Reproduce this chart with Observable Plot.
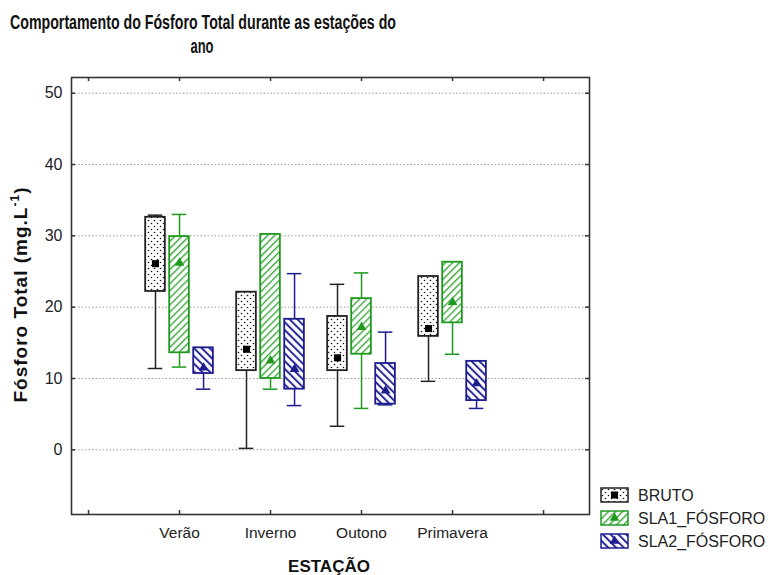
<!DOCTYPE html>
<html>
<head>
<meta charset="utf-8">
<script src="https://cdn.jsdelivr.net/npm/d3@7"></script>
<script src="https://cdn.jsdelivr.net/npm/@observablehq/plot@0.6"></script>
<style>
  body { margin: 0; background: #fff; }
  #chart { position: relative; width: 771px; height: 575px; font-family: Arial, "Liberation Sans", sans-serif; }
  #chart > svg { position: absolute; left: 0; top: 0; }
</style>
</head>
<body>
<div id="chart"></div>
<script>
// Seasons on the x axis (positions 1..4; 0 and 5 are empty slots)
const seasons = ["Verão", "Inverno", "Outono", "Primavera"];
const seriesNames = ["BRUTO", "SLA1_FÓSFORO", "SLA2_FÓSFORO"];

// Total phosphorus (mg/L) — whisker low, box low, marker, box high, whisker high
const brutoMin   = [11.4, 0.2, 3.3, 9.6];
const brutoLow   = [22.2, 11.1, 11.1, 15.9];
const brutoMid   = [26.1, 14.1, 12.9, 17.0];
const brutoHigh  = [32.6, 22.1, 18.7, 24.3];
const brutoMax   = [32.9, 22.1, 23.2, 24.3];

const sla1Min    = [11.6, 8.5, 5.8, 13.4];
const sla1Low    = [13.6, 10.0, 13.4, 17.8];
const sla1Mid    = [26.2, 12.5, 17.2, 20.7];
const sla1High   = [29.9, 30.2, 21.2, 26.3];
const sla1Max    = [33.0, 30.2, 24.8, 26.3];

const sla2Min    = [8.5, 6.2, 6.3, 5.8];
const sla2Low    = [10.7, 8.5, 6.4, 6.9];
const sla2Mid    = [11.5, 11.3, 8.3, 9.3];
const sla2High   = [14.3, 18.3, 12.1, 12.4];
const sla2Max    = [14.3, 24.7, 16.5, 12.4];

const yTicks = [0, 10, 20, 30, 40, 50];
const xTicks = [0, 1, 2, 3, 4, 5];

// Visual style of each series
const styles = [
  {name: seriesNames[0], color: "#222222", pattern: "pat-dots",  symbol: "square",   dx: -0.264, stats: [brutoMin, brutoLow, brutoMid, brutoHigh, brutoMax]},
  {name: seriesNames[1], color: "#1f9a1f", pattern: "pat-green", symbol: "triangle", dx: 0,      stats: [sla1Min, sla1Low, sla1Mid, sla1High, sla1Max]},
  {name: seriesNames[2], color: "#1c1c8f", pattern: "pat-blue",  symbol: "triangle", dx: 0.264,  stats: [sla2Min, sla2Low, sla2Mid, sla2High, sla2Max]}
];

const halfBox = 0.108, halfCap = 0.08;

const seriesMarks = styles.flatMap(s => {
  const rows = seasons.map((season, i) => ({
    season, series: s.name, pos: i + 1 + s.dx,
    min: s.stats[0][i], lo: s.stats[1][i], mid: s.stats[2][i], hi: s.stats[3][i], max: s.stats[4][i]
  }));
  return [
    Plot.ruleX(rows, {x: "pos", y1: "min", y2: "lo", stroke: s.color, strokeWidth: 1.5}),
    Plot.ruleX(rows, {x: "pos", y1: "hi", y2: "max", stroke: s.color, strokeWidth: 1.5}),
    Plot.ruleY(rows, {y: "min", x1: d => d.pos - halfCap, x2: d => d.pos + halfCap, stroke: s.color, strokeWidth: 1.5}),
    Plot.ruleY(rows, {y: "max", x1: d => d.pos - halfCap, x2: d => d.pos + halfCap, stroke: s.color, strokeWidth: 1.5}),
    Plot.rect(rows, {x1: d => d.pos - halfBox, x2: d => d.pos + halfBox, y1: "lo", y2: "hi",
      fill: `url(#${s.pattern})`, stroke: s.color, strokeWidth: 1.8}),
    Plot.dot(rows, {x: "pos", y: "mid", symbol: s.symbol, r: s.symbol === "square" ? 4 : 3.6,
      fill: s.symbol === "square" ? "#000" : s.color, stroke: "none"})
  ];
});

const plot = Plot.plot({
  width: 771,
  height: 575,
  marginLeft: 71,
  marginRight: 182,
  marginTop: 77,
  marginBottom: 61,
  style: {fontFamily: "Arial, 'Liberation Sans', sans-serif", color: "#222", background: "transparent"},
  x: {type: "linear", domain: [-0.187, 5.505]},
  y: {domain: [-9.07, 52.2]},
  marks: [
    Plot.gridY(yTicks, {stroke: "#9a9a9a", strokeOpacity: 1, strokeDasharray: "1.5,2"}),
    ...seriesMarks,
    // inward ticks on all four sides
    Plot.ruleY(yTicks, {y: d => d, insetRight: 514, stroke: "#333", strokeWidth: 1.5}),
    Plot.ruleY(yTicks, {y: d => d, insetLeft: 514, stroke: "#333", strokeWidth: 1.5}),
    Plot.ruleX(xTicks, {x: d => d, insetBottom: 433, stroke: "#333", strokeWidth: 1.5}),
    Plot.ruleX(xTicks, {x: d => d, insetTop: 433, stroke: "#333", strokeWidth: 1.5}),
    Plot.frame({stroke: "#333", strokeWidth: 1.6}),
    Plot.axisY(yTicks, {tickSize: 0, tickPadding: 9, fontSize: 16, label: null}),
    Plot.axisX(xTicks, {tickSize: 0, tickPadding: 12, fontSize: 15.5, label: null,
      tickFormat: i => seasons[i - 1] ?? ""})
  ]
});

// Fill patterns for the boxes
const patternDefs = `
  <pattern id="pat-dots" patternUnits="userSpaceOnUse" width="6" height="6">
    <rect width="6" height="6" fill="#fff"/>
    <circle cx="1.5" cy="1.5" r="0.8" fill="#111"/>
    <circle cx="4.5" cy="4.5" r="0.8" fill="#111"/>
  </pattern>
  <pattern id="pat-green" patternUnits="userSpaceOnUse" width="5" height="5" patternTransform="rotate(45)">
    <rect width="5" height="5" fill="#fff"/>
    <rect width="1.4" height="5" fill="#3aa83a"/>
  </pattern>
  <pattern id="pat-blue" patternUnits="userSpaceOnUse" width="5.5" height="5.5" patternTransform="rotate(-45)">
    <rect width="5.5" height="5.5" fill="#fff"/>
    <rect width="2" height="5.5" fill="#2a2a9a"/>
  </pattern>`;
d3.select(plot).insert("defs", ":first-child").html(patternDefs);

const chart = document.getElementById("chart");
chart.appendChild(plot);

// Titles, axis labels and legend drawn on top of the plot
const overlay = d3.create("svg")
  .attr("width", 771).attr("height", 575)
  .style("pointer-events", "none");

// Condensed bold title, two centred lines
const title = overlay.append("g")
  .attr("font-family", "'Liberation Sans Narrow', 'Arial Narrow', Arial, sans-serif")
  .attr("font-weight", "bold").attr("font-size", 20).attr("fill", "#111")
  .attr("text-anchor", "middle");
title.append("text").attr("x", 203).attr("y", 29).attr("textLength", 386)
  .attr("lengthAdjust", "spacingAndGlyphs")
  .text("Comportamento do Fósforo Total durante as estações do");
title.append("text").attr("x", 202).attr("y", 53).attr("textLength", 23)
  .attr("lengthAdjust", "spacingAndGlyphs")
  .text("ano");

const ylab = overlay.append("text")
  .attr("transform", "translate(27,295) rotate(-90)")
  .attr("text-anchor", "middle")
  .attr("font-weight", "bold").attr("font-size", 19).attr("fill", "#111")
  .attr("font-family", "Arial, 'Liberation Sans', sans-serif")
  .attr("textLength", 215);
ylab.append("tspan").text("Fósforo Total (mg.L");
ylab.append("tspan").attr("font-size", 12).attr("dy", -8).text("-1");
ylab.append("tspan").attr("dy", 8).text(")");

overlay.append("text")
  .attr("x", 329).attr("y", 572).attr("text-anchor", "middle")
  .attr("font-weight", "bold").attr("font-size", 17).attr("fill", "#111")
  .attr("font-family", "Arial, 'Liberation Sans', sans-serif")
  .text("ESTAÇÃO");

// Legend
overlay.append("defs").html(patternDefs.replace(/id="pat-/g, 'id="leg-'));
const legend = overlay.append("g");
styles.forEach((s, i) => {
  const y0 = 488 + i * 23;
  const g = legend.append("g").attr("transform", `translate(601,${y0})`);
  g.append("rect").attr("width", 27).attr("height", 14)
    .attr("fill", `url(#${s.pattern.replace("pat-", "leg-")})`)
    .attr("stroke", s.color).attr("stroke-width", 1.5);
  const sym = d3.symbol(s.symbol === "square" ? d3.symbolSquare : d3.symbolTriangle, s.symbol === "square" ? 50 : 40);
  g.append("path").attr("d", sym()).attr("transform", "translate(13.5,7)")
    .attr("fill", s.symbol === "square" ? "#000" : s.color);
  g.append("text").attr("x", 37).attr("y", 13)
    .attr("font-size", 16).attr("fill", "#222")
    .attr("font-family", "Arial, 'Liberation Sans', sans-serif")
    .text(s.name);
});

chart.appendChild(overlay.node());
</script>
</body>
</html>
